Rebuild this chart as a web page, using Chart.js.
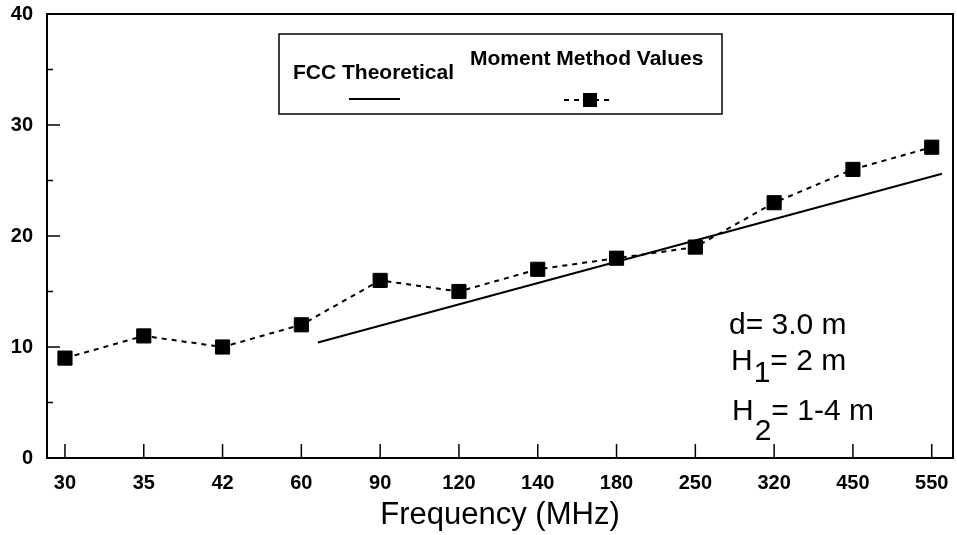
<!DOCTYPE html>
<html><head><meta charset="utf-8">
<script src="https://cdn.jsdelivr.net/npm/chart.js@4/dist/chart.umd.min.js"></script>
<style>html,body{margin:0;padding:0;background:#fff}#wrap{width:957px;height:535px;position:relative}</style>
</head><body><div id="wrap"><canvas id="c" width="957" height="535"></canvas></div>
<script>
// Categories (frequency, MHz) and series values
const frequencies = ['30','35','42','60','90','120','140','180','250','320','450','550'];
const momentValues = [9, 11, 10, 12, 16, 15, 17, 18, 19, 23, 26, 28];
// FCC theoretical straight line: start/end positions on the category index axis
const fccX = [3.21, 11.13];
const fccY = [10.4, 25.6];
const yMajorTicks = [0, 10, 20, 30, 40];
const yMinorTicks = [5, 15, 25, 35];
const legendLabels = ['FCC Theoretical', 'Moment Method Values'];
const annotationLines = [['d= 3.0 m', '', ''], ['H', '1', '= 2 m'], ['H', '2', '= 1-4 m']];

const FONT = '"Liberation Sans", Arial, Helvetica, sans-serif';

const frame = {
  id: 'frame',
  beforeDatasetsDraw(chart) {
    const {ctx, chartArea: a, scales: {x, y}} = chart;
    ctx.save();
    ctx.strokeStyle = '#000';
    ctx.lineWidth = 2;
    ctx.strokeRect(a.left, a.top, a.right - a.left, a.bottom - a.top);
    ctx.lineWidth = 1.5;
    ctx.beginPath();
    frequencies.forEach((f, i) => {
      const px = x.getPixelForValue(i);
      ctx.moveTo(px, a.bottom); ctx.lineTo(px, a.bottom - 14);
    });
    yMajorTicks.forEach(v => {
      const py = y.getPixelForValue(v);
      ctx.moveTo(a.left, py); ctx.lineTo(a.left + 13, py);
    });
    yMinorTicks.forEach(v => {
      const py = y.getPixelForValue(v);
      ctx.moveTo(a.left, py); ctx.lineTo(a.left + 6, py);
    });
    ctx.stroke();
    ctx.restore();
  },
  afterDraw(chart) {
    const {ctx} = chart;
    ctx.save();
    // legend box
    ctx.strokeStyle = '#000';
    ctx.lineWidth = 1.5;
    ctx.strokeRect(279, 34, 443, 80);
    ctx.fillStyle = '#000';
    ctx.font = 'bold 21px ' + FONT;
    ctx.textBaseline = 'alphabetic';
    ctx.textAlign = 'left';
    ctx.fillText(legendLabels[0], 293, 79);
    ctx.fillText(legendLabels[1], 470, 65);
    // legend samples
    ctx.lineWidth = 2;
    ctx.beginPath(); ctx.moveTo(349, 99); ctx.lineTo(400, 99); ctx.stroke();
    ctx.setLineDash([5, 5]);
    ctx.beginPath(); ctx.moveTo(564, 100); ctx.lineTo(612, 100); ctx.stroke();
    ctx.setLineDash([]);
    ctx.fillRect(583, 93, 14, 14);
    // annotation
    const rows = [[729, 334, 0], [731, 370, 12], [732, 420, 20]];
    annotationLines.forEach((ln, i) => {
      let [tx, ty, sub] = rows[i];
      ctx.font = '30px ' + FONT;
      ctx.fillText(ln[0], tx, ty);
      tx += ctx.measureText(ln[0]).width;
      if (ln[1]) {
        ctx.fillText(ln[1], tx + 1, ty + sub);
        tx += ctx.measureText(ln[1]).width + 1;
      }
      if (ln[2]) ctx.fillText(ln[2], tx, ty);
    });
    ctx.restore();
  }
};

new Chart(document.getElementById('c'), {
  type: 'line',
  data: {
    datasets: [
      {
        label: legendLabels[1],
        data: momentValues.map((v, i) => ({x: i, y: v})),
        borderColor: '#000',
        borderWidth: 2,
        borderDash: [5, 5],
        pointStyle: 'rect',
        pointRadius: 10,
        pointBackgroundColor: '#000',
        pointBorderColor: '#000',
        pointBorderWidth: 1,
        tension: 0
      },
      {
        label: legendLabels[0],
        data: fccX.map((xv, i) => ({x: xv, y: fccY[i]})),
        borderColor: '#000',
        borderWidth: 2,
        pointRadius: 0,
        tension: 0
      }
    ]
  },
  options: {
    responsive: false,
    devicePixelRatio: 1,
    animation: false,
    layout: {autoPadding: false, padding: {top: 14, right: 4, left: 0, bottom: 0}},
    plugins: {legend: {display: false}, tooltip: {enabled: false}},
    scales: {
      x: {
        type: 'linear',
        min: -0.228,
        max: 11.27,
        afterBuildTicks(s) { s.ticks = frequencies.map((f, i) => ({value: i})); },
        afterFit(s) { s.height = 77; s.paddingLeft = 0; s.paddingRight = 0; },
        grid: {display: false, drawTicks: false},
        border: {display: false},
        ticks: {
          autoSkip: false,
          maxRotation: 0,
          padding: 13,
          color: '#000',
          font: {family: FONT, size: 20, weight: 'bold'},
          callback: (v) => frequencies[v]
        },
        title: {
          display: true,
          text: 'Frequency (MHz)',
          color: '#000',
          font: {family: FONT, size: 31},
          padding: {top: 0, bottom: 1}
        }
      },
      y: {
        min: 0,
        max: 40,
        afterFit(s) { s.width = 47; s.paddingTop = 0; s.paddingBottom = 0; },
        grid: {display: false, drawTicks: false},
        border: {display: false},
        ticks: {
          stepSize: 10,
          padding: 14,
          color: '#000',
          font: {family: FONT, size: 20, weight: 'bold'}
        }
      }
    }
  },
  plugins: [frame]
});
</script>
</body></html>
